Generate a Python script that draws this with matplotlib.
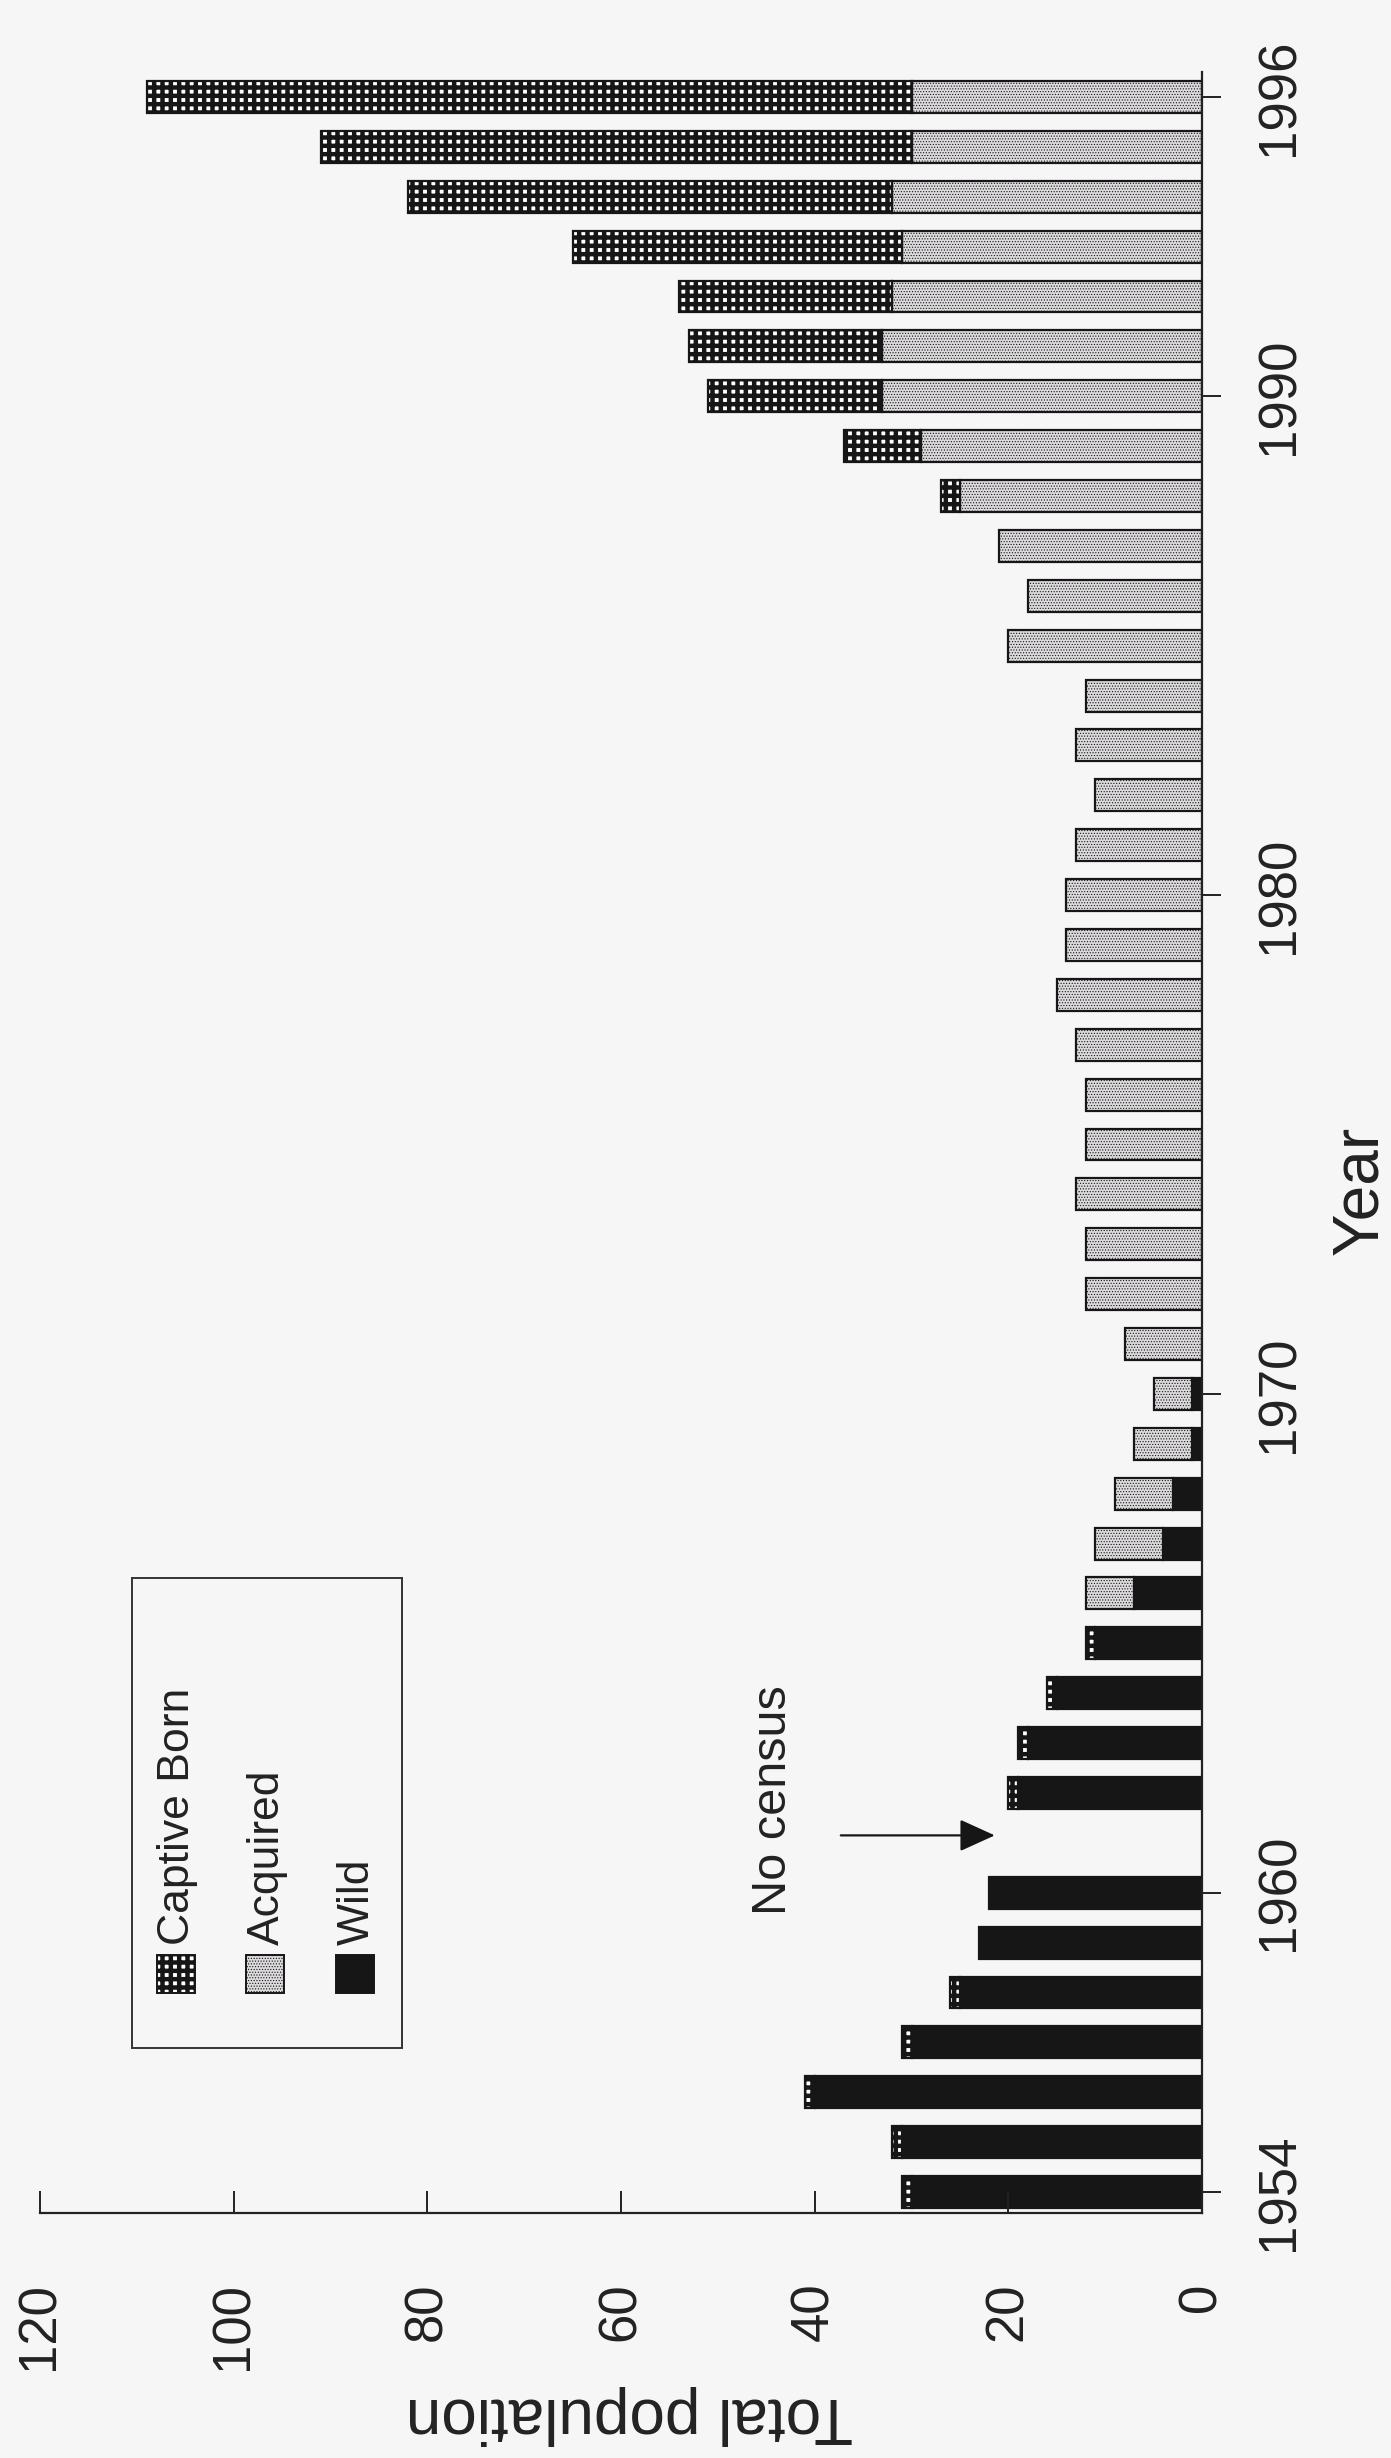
import numpy as np
import matplotlib.pyplot as plt
from matplotlib.patches import Rectangle

plt.rcParams['font.family'] = ['Liberation Sans', 'DejaVu Sans']

#%% data (no census in 1961)
years = [1954, 1955, 1956, 1957, 1958, 1959, 1960, 1962, 1963, 1964,
         1965, 1966, 1967, 1968, 1969, 1970, 1971, 1972, 1973, 1974,
         1975, 1976, 1977, 1978, 1979, 1980, 1981, 1982, 1983, 1984,
         1985, 1986, 1987, 1988, 1989, 1990, 1991, 1992, 1993, 1994,
         1995, 1996]
wild = [30, 31, 40, 30, 25, 23, 22, 19, 18, 15,
        11, 7, 4, 3, 1, 1, 0, 0, 0, 0,
        0, 0, 0, 0, 0, 0, 0, 0, 0, 0,
        0, 0, 0, 0, 0, 0, 0, 0, 0, 0,
        0, 0]
acquired = [0, 0, 0, 0, 0, 0, 0, 0, 0, 0,
            0, 5, 7, 6, 6, 4, 8, 12, 12, 13,
            12, 12, 13, 15, 14, 14, 13, 11, 13, 12,
            20, 18, 21, 25, 29, 33, 33, 32, 31, 32,
            30, 30]
captive_born = [1, 1, 1, 1, 1, 0, 0, 1, 1, 1,
                1, 0, 0, 0, 0, 0, 0, 0, 0, 0,
                0, 0, 0, 0, 0, 0, 0, 0, 0, 0,
                0, 0, 0, 2, 8, 18, 20, 22, 34, 50,
                61, 79]
series_names = ['Captive Born', 'Acquired', 'Wild']
value_ticks = [0, 20, 40, 60, 80, 100, 120]
year_ticks = [1954, 1960, 1970, 1980, 1990, 1996]
gap_year = 1961

#%% figure (page is turned: years run up the right side)
W, H = 1391, 2458
def fx(x): return x / W
def fy(y): return 1 - y / H

fig = plt.figure(figsize=(W / 100, H / 100), dpi=100, facecolor='#f7f6f7')
ax = fig.add_axes([fx(40), fy(2213), (1202 - 40) / W, (2213 - 72) / H])
ax.set_facecolor('none')

yr = np.array(years)
wd = np.array(wild)
aq = np.array(acquired)
cb = np.array(captive_born)
bh = 0.64
ink = '#161616'

styles = {
    'Wild': dict(facecolor=ink, edgecolor=ink, hatch=None, hlw=1.0),
    'Acquired': dict(facecolor='#dcdadc', edgecolor=ink, hatch='......', hlw=0.5),
    'Captive Born': dict(facecolor='white', edgecolor=ink, hatch='++', hlw=3.2),
}

def bars(mask, width, left, name):
    st = styles[name]
    with plt.rc_context({'hatch.linewidth': st['hlw']}):
        ax.barh(yr[mask], width[mask], left=left[mask], height=bh,
                facecolor=st['facecolor'], edgecolor=st['edgecolor'],
                hatch=st['hatch'], linewidth=1.6)

bars(wd > 0, wd, np.zeros_like(wd), 'Wild')
bars(aq > 0, aq, wd, 'Acquired')
bars(cb > 0, cb, wd + aq, 'Captive Born')

ax.set_xlim(120, 0)
ax.set_ylim(1953.58, 1996.5)

for s in ['left', 'top']:
    ax.spines[s].set_visible(False)
for s in ['right', 'bottom']:
    ax.spines[s].set_linewidth(1.6)
    ax.spines[s].set_color('#222222')

ax.yaxis.tick_right()
ax.set_yticks(year_ticks)
ax.tick_params(axis='y', direction='out', length=14, width=1.4, pad=24,
               labelsize=38, labelrotation=90, colors='#222222')
for lbl in ax.get_yticklabels():
    lbl.set_va('center')
ax.set_xticks(value_ticks)
ax.tick_params(axis='x', direction='in', length=16, width=1.4, pad=50,
               labelsize=38, labelrotation=90, colors='#222222')

# no census marker
ax.text(44.3, gap_year + 0.85, 'No census', rotation=90, ha='center',
        va='center', fontsize=35, color='#222222')
ax.annotate('', xy=(21.4, gap_year + 0.15), xytext=(37.3, gap_year + 0.15),
            arrowprops=dict(arrowstyle='-|>,head_length=1.1,head_width=0.5',
                            mutation_scale=20, lw=1.6, color=ink,
                            shrinkA=0, shrinkB=0))

# axis labels
fig.text(fx(629), fy(2415), 'Total population', rotation=180, ha='center',
         va='center', fontsize=46, color='#222222')
fig.text(fx(1360), fy(1190), 'Year', rotation=90, ha='center',
         va='center', fontsize=46, color='#222222')

# legend (turned with the page)
fig.add_artist(Rectangle((fx(132), fy(2048)), (402 - 132) / W, (2048 - 1578) / H,
                         transform=fig.transFigure, fill=False,
                         edgecolor='#333333', linewidth=1.4))
sw = 38
for name, xc in zip(series_names, [176, 265, 355]):
    st = styles[name]
    with plt.rc_context({'hatch.linewidth': st['hlw']}):
        fig.add_artist(Rectangle((fx(xc - sw / 2), fy(1993)), sw / W, sw / H,
                                 transform=fig.transFigure,
                                 facecolor=st['facecolor'], edgecolor=st['edgecolor'],
                                 hatch=st['hatch'], linewidth=1.4))
    fig.text(fx(xc + 2), fy(1945), name, rotation=90, ha='center', va='bottom',
             fontsize=32, color='#222222')

fig.savefig('out.png', dpi=100, facecolor=fig.get_facecolor())
